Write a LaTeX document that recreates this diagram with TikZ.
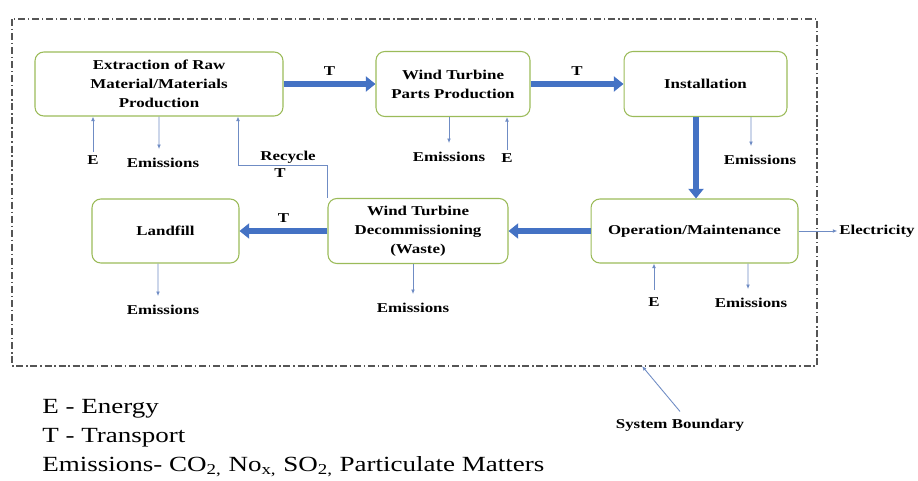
\documentclass[tikz,border=0pt]{standalone}
\usepackage{fontspec}
\setmainfont{Liberation Serif}[FakeStretch=1.25]
\usetikzlibrary{arrows.meta,positioning}
\definecolor{boxgreen}{HTML}{9BBB59}
\definecolor{flowblue}{HTML}{4472C4}
\definecolor{auxblue}{HTML}{6F8CC4}
\definecolor{boundgray}{HTML}{555555}
\tikzset{
  stage/.style={draw=boxgreen,line width=0.6pt,rounded corners=5pt,align=center,
    font=\fontsize{7.7}{10.8}\selectfont\bfseries,inner sep=1pt},
  flow/.style={color=flowblue,line width=3.4pt,-{Triangle[length=5.5pt,width=8.5pt]}},
  aux/.style={draw=auxblue,line width=0.5pt,-{Latex[length=2.6pt,width=2.2pt]}},
  lbl/.style={font=\fontsize{7.7}{9}\selectfont\bfseries,inner sep=1pt},
  legend/.style={font=\fontsize{12.3}{14}\selectfont,inner sep=0pt,anchor=base west},
}

\begin{document}
\begin{tikzpicture}[x=0.02cm,y=-0.02cm]
\useasboundingbox (0,0) rectangle (918,480);
% system boundary
\draw[boundgray,line width=0.6pt,dash pattern=on 4pt off 1.6pt on 0.8pt off 1.6pt] (12,19) rectangle (817,366);
\coordinate (sbp) at (642,366);
%
\node (extr) [stage,minimum width=4.96cm,minimum height=1.28cm] at (159,84) {Extraction of Raw\\Material/Materials\\Production};
\node (parts) [stage,minimum width=3.08cm,minimum height=1.3cm] at (453,84) {Wind Turbine\\Parts Production};
\node (inst) [stage,minimum width=3.26cm,minimum height=1.3cm] at (705.5,84) {Installation};
\node (oper) [stage,minimum width=4.14cm,minimum height=1.28cm] at (694.5,231) {Operation/Maintenance};
\node (decom) [stage,minimum width=3.6cm,minimum height=1.3cm] at (418,231) {Wind Turbine\\Decommissioning\\(Waste)};
\node (landf) [stage,minimum width=2.94cm,minimum height=1.28cm] at (165.5,231) {Landfill};
%
\path[flow] (extr) edge node[lbl,above=2pt,black] {T} (parts);
\path[flow] (parts) edge node[lbl,above=2pt,black] {T} (inst);
\path[flow] ([xshift=-0.19cm]inst.south) edge ([xshift=-0.19cm]inst.south |- oper.north);
\path[flow] (oper.west) edge (decom.east);
\path[flow] (decom.west) edge node[lbl,above=2pt,black] {T} (landf.east);
%
\node (e1) [lbl] at (93,160) {E};
\node (em1) [lbl] at (163,163) {Emissions};
\node (em2) [lbl] at (449,157) {Emissions};
\node (e2) [lbl] at (507,158) {E};
\node (em3) [lbl] at (760,160) {Emissions};
\node (elec) [lbl] at (877,231) {Electricity};
\node (e3) [lbl] at (654,302) {E};
\node (em4) [lbl] at (751,303) {Emissions};
\node (em5) [lbl] at (413,308) {Emissions};
\node (em6) [lbl] at (163,310) {Emissions};
\node (rcy) [lbl] at (288,157) {Recycle};
\node (rct) [lbl] at (280,173) {T};
%
\draw[aux] ([yshift=1pt]e1.north) -- (e1 |- extr.south);
\draw[aux] (extr.south -| 159,0) -- ([xshift=-0.08cm,yshift=4pt]em1.north);
\draw[aux] (parts.south -| em2.north) -- ([yshift=4pt]em2.north);
\draw[aux] ([yshift=1pt]e2.north) -- (e2 |- parts.south);
\draw[aux] (inst.south -| 751,0) -- ([xshift=-0.18cm,yshift=4pt]em3.north);
\draw[aux] (oper) -- (elec);
\draw[aux] ([yshift=3pt]e3.north) -- (e3 |- oper.south);
\draw[aux] (oper.south -| 748,0) -- ([xshift=-0.06cm,yshift=4pt]em4.north);
\draw[aux] (decom.south -| em5.north) -- ([yshift=4pt]em5.north);
\draw[aux] (landf.south -| 158,0) -- ([xshift=-0.1cm,yshift=4pt]em6.north);
% recycle loop
\coordinate (rc) at (238,165);
\draw[aux] (decom.north west) |- (rc) -- (rc |- extr.south);
%
\node (sbl) [lbl] at (680,425) {System Boundary};
\draw[aux] ([yshift=3pt]sbl.north) -- (sbp);
%
\node (leg1) [legend] at (42,413) {E - Energy};
\node (leg2) [legend] at (42,442) {T - Transport};
\node (leg3) [legend] at (42,471) {Emissions- CO\textsubscript{2,} No\textsubscript{x,} SO\textsubscript{2,} Particulate Matters};
\end{tikzpicture}
\end{document}
